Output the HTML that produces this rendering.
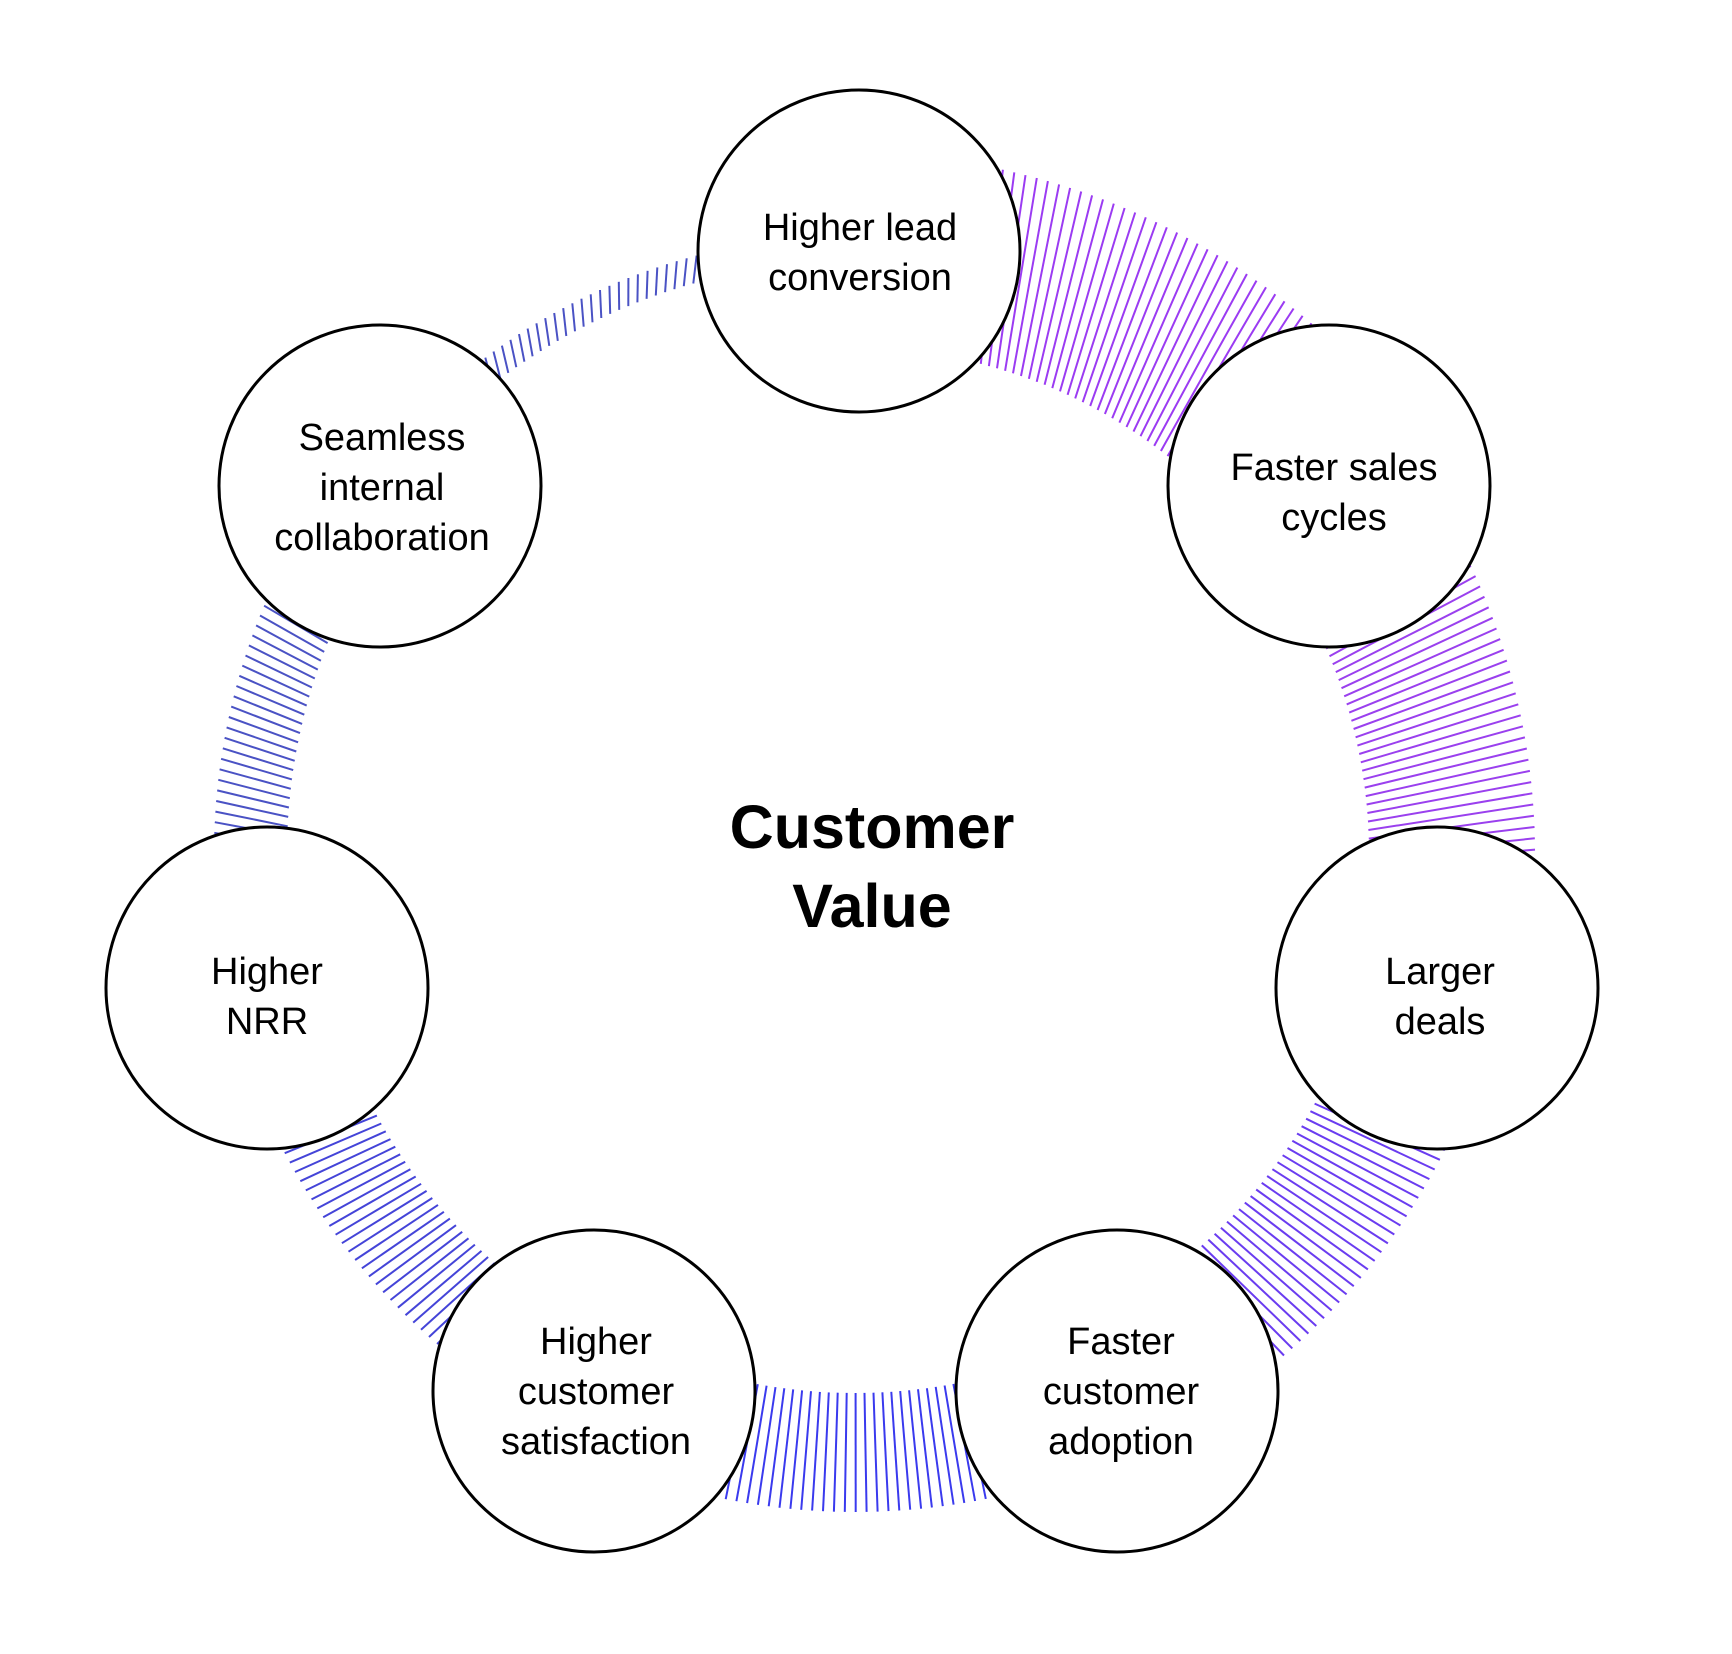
<!DOCTYPE html>
<html><head><meta charset="utf-8"><style>
html,body{margin:0;padding:0;background:#fff;}
svg{display:block;}
text{font-family:"Liberation Sans",sans-serif;fill:#000;}
</style></head><body>
<svg id="s" width="1732" height="1654" viewBox="0 0 1732 1654" xmlns="http://www.w3.org/2000/svg">
<g id="hatch"></g>
<g fill="#fff" stroke="#000" stroke-width="3">
<circle cx="859" cy="251" r="161"/>
<circle cx="1329" cy="486" r="161"/>
<circle cx="1437" cy="988" r="161"/>
<circle cx="1117" cy="1391" r="161"/>
<circle cx="594" cy="1391" r="161"/>
<circle cx="267" cy="988" r="161"/>
<circle cx="380" cy="486" r="161"/>
</g>
<g font-size="38" text-anchor="middle">
<text x="860" y="240">Higher lead</text><text x="860" y="290">conversion</text>
<text x="1334" y="480">Faster sales</text><text x="1334" y="530">cycles</text>
<text x="1440" y="984">Larger</text><text x="1440" y="1034">deals</text>
<text x="1121" y="1354">Faster</text><text x="1121" y="1404">customer</text><text x="1121" y="1454">adoption</text>
<text x="596" y="1354">Higher</text><text x="596" y="1404">customer</text><text x="596" y="1454">satisfaction</text>
<text x="267" y="984">Higher</text><text x="267" y="1034">NRR</text>
<text x="382" y="450">Seamless</text><text x="382" y="500">internal</text><text x="382" y="550">collaboration</text>
</g>
<g font-size="61" font-weight="bold" text-anchor="middle">
<text x="872" y="848">Customer</text><text x="872" y="927">Value</text>
</g>
</svg>
<script>
var cx=855,cy=854,g=document.getElementById('hatch');
var bands=[[506,700,'#9b3bf2',-2.2],[514,680,'#9a40ee',-1.5],[523,660,'#6a3cf0',-0.9],[539,658,'#3a3aee',0],[545,644,'#4444d8',1],[568,641,'#4a52c4',1],[593,619,'#4a52c4',1]];
var out='';
for(var i=0;i<7;i++){
 var a0=-90+i*360/7,a1=a0+360/7,b=bands[i];
 for(var a=a0;a<=a1;a+=0.95){
  var ti=(a-b[3]/2)*Math.PI/180,to=(a+b[3]/2)*Math.PI/180;
  var x1=cx+b[0]*Math.cos(ti),y1=cy+b[0]*Math.sin(ti);
  var x2=cx+b[1]*Math.cos(to),y2=cy+b[1]*Math.sin(to);
  out+='<line x1="'+x1.toFixed(1)+'" y1="'+y1.toFixed(1)+'" x2="'+x2.toFixed(1)+'" y2="'+y2.toFixed(1)+'" stroke="'+b[2]+'" stroke-width="2"/>';
 }
}
g.innerHTML=out;
</script>
</body></html>
